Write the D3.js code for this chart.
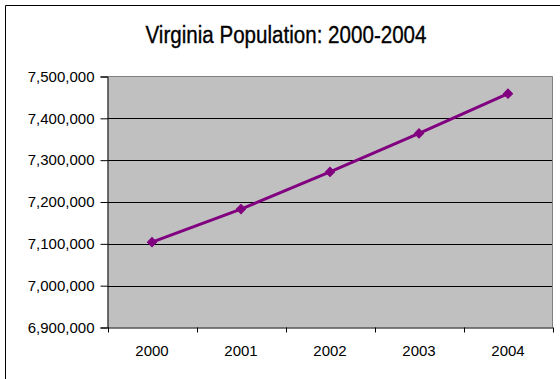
<!DOCTYPE html>
<html>
<head>
<meta charset="utf-8">
<script src="https://cdn.jsdelivr.net/npm/d3@7"></script>
<style>
  html, body { margin: 0; padding: 0; background: #ffffff; }
  svg { display: block; }
</style>
</head>
<body>
<svg id="chart" width="560" height="379"></svg>
<script>
// Virginia population estimates, 2000-2004
const years = ["2000", "2001", "2002", "2003", "2004"];
const population = [7104000, 7183000, 7272000, 7364000, 7459000];
const yTicks = [6900000, 7000000, 7100000, 7200000, 7300000, 7400000, 7500000];
const titleText = "Virginia Population: 2000-2004";

const svg = d3.select("#chart");
const W = 560, H = 379;
const plot = { left: 107.5, right: 552.5, top: 76.5, bottom: 327.5 };

// Outer chart frame (runs off the right and bottom edges)
svg.append("path")
  .attr("d", `M5.5,${H + 2} V5.5 H${W + 2}`)
  .attr("fill", "none")
  .attr("stroke", "#000")
  .attr("stroke-width", 1);

// Title, narrowed to the width of a condensed face
svg.append("text")
  .attr("x", 286)
  .attr("y", 43)
  .attr("text-anchor", "middle")
  .attr("font-family", "'Liberation Sans', Arial, sans-serif")
  .attr("font-size", 23.5)
  .attr("textLength", 281)
  .attr("lengthAdjust", "spacingAndGlyphs")
  .attr("fill", "#000")
  .attr("stroke", "#000")
  .attr("stroke-width", 0.35)
  .text(titleText);

const x = d3.scaleBand()
  .domain(years)
  .range([plot.left, plot.right])
  .padding(0);

const y = d3.scaleLinear()
  .domain([yTicks[0], yTicks[yTicks.length - 1]])
  .range([plot.bottom, plot.top]);

// Plot area fill
svg.append("rect")
  .attr("x", plot.left)
  .attr("y", plot.top)
  .attr("width", plot.right - plot.left)
  .attr("height", plot.bottom - plot.top)
  .attr("fill", "#c0c0c0");

// Horizontal gridlines
svg.append("g")
  .selectAll("line")
  .data(yTicks.slice(1, -1))
  .join("line")
  .attr("x1", plot.left)
  .attr("x2", plot.right)
  .attr("y1", d => Math.round(y(d)) + 0.5)
  .attr("y2", d => Math.round(y(d)) + 0.5)
  .attr("stroke", "#000")
  .attr("stroke-width", 1);

// Plot area border on top and right
svg.append("path")
  .attr("d", `M${plot.left},${plot.top} H${plot.right} V${plot.bottom}`)
  .attr("fill", "none")
  .attr("stroke", "#808080")
  .attr("stroke-width", 1);

const font = "'Liberation Sans', Arial, sans-serif";

// Y axis
const yAxis = d3.axisLeft(y)
  .tickValues(yTicks)
  .tickFormat(d3.format(","))
  .tickSize(7)
  .tickPadding(6);

const gy = svg.append("g")
  .attr("transform", `translate(${plot.left},0)`)
  .call(yAxis);
gy.select(".domain").attr("stroke", "#000");
gy.selectAll(".tick line").attr("stroke", "#000");
gy.selectAll(".tick text")
  .attr("font-family", font)
  .attr("font-size", 15)
  .attr("fill", "#000");

// X axis: labels centred in each band, tick marks on band boundaries
const xAxis = d3.axisBottom(x).tickSize(0).tickPadding(18);
const gx = svg.append("g")
  .attr("transform", `translate(0,${plot.bottom})`)
  .call(xAxis);
gx.select(".domain").attr("stroke", "#000");
gx.selectAll(".tick text")
  .attr("font-family", font)
  .attr("font-size", 15)
  .attr("fill", "#000");

const boundaries = years.map(d => x(d)).concat([x(years[years.length - 1]) + x.bandwidth()]);
gx.selectAll(".boundary")
  .data(boundaries)
  .join("line")
  .attr("class", "boundary")
  .attr("x1", d => Math.round(d) + 0.5)
  .attr("x2", d => Math.round(d) + 0.5)
  .attr("y1", 0)
  .attr("y2", 5)
  .attr("stroke", "#000");

// Population line
const cx = d => x(d) + x.bandwidth() / 2;
const line = d3.line()
  .x((d, i) => cx(years[i]))
  .y(d => y(d));

svg.append("path")
  .datum(population)
  .attr("d", line)
  .attr("fill", "none")
  .attr("stroke", "#800080")
  .attr("stroke-width", 3)
  .attr("stroke-linejoin", "round");

// Diamond markers
svg.append("g")
  .selectAll("path")
  .data(population)
  .join("path")
  .attr("d", d3.symbol(d3.symbolSquare, 42))
  .attr("transform", (d, i) => `translate(${cx(years[i])},${y(d)}) rotate(45)`)
  .attr("fill", "#800080")
  .attr("stroke", "#800080")
  .attr("stroke-width", 1);
</script>
</body>
</html>
